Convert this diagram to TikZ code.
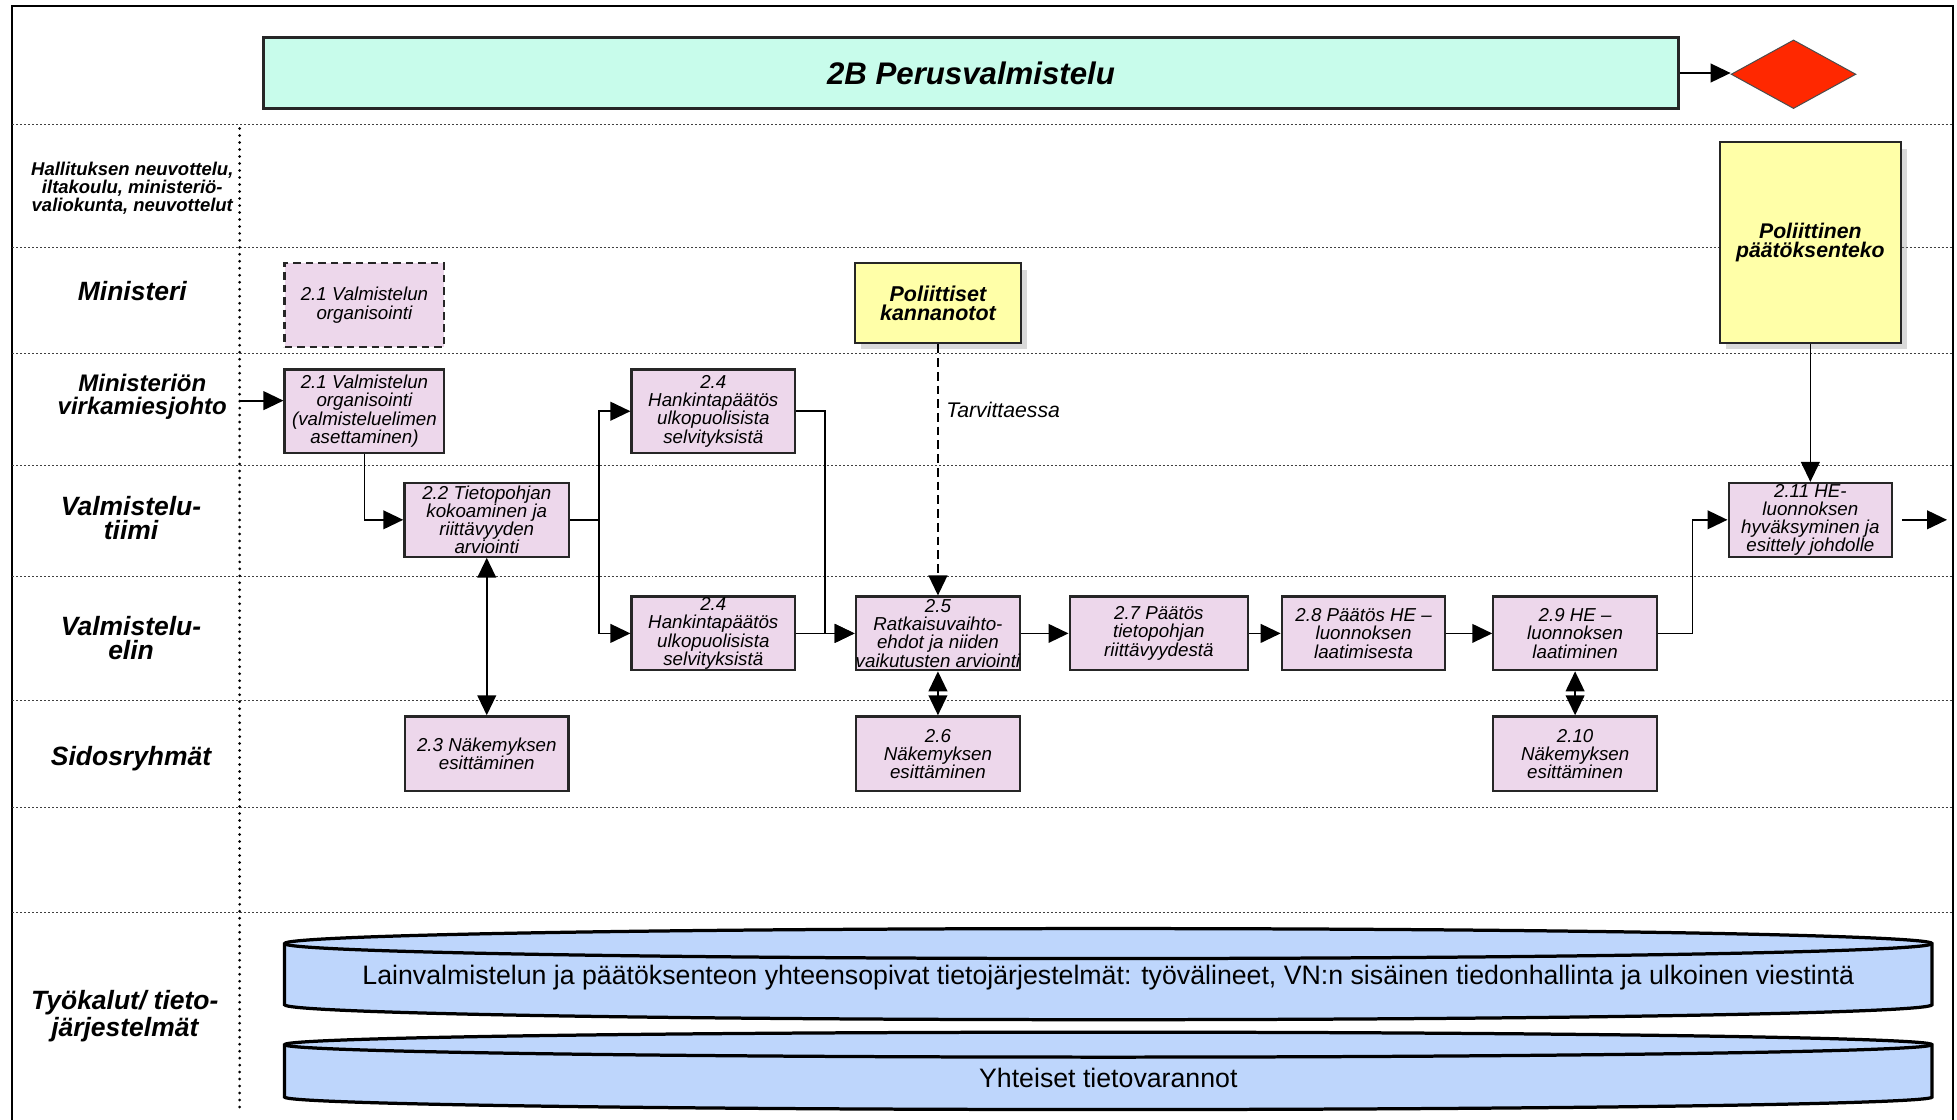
\documentclass[tikz,border=0pt]{standalone}
\usepackage{fontspec}
\setmainfont{Liberation Sans}
\usepackage{tikz}
\usetikzlibrary{arrows,arrows.meta,shapes,shadows,positioning}
\definecolor{taskpink}{RGB}{237,215,235}
\definecolor{titlemint}{RGB}{200,252,235}
\definecolor{notepale}{RGB}{255,255,168}
\definecolor{goalred}{RGB}{255,40,0}
\definecolor{storeblue}{RGB}{190,214,252}

\begin{document}
\begin{tikzpicture}[x=0.5pt,y=0.5pt]
                \tikzstyle{every node}+=[inner sep=0pt]
                \tikzstyle{lane}=[black!75, line width=0.4pt, dash pattern=on 0.8pt off 0.8pt]
                \tikzstyle{task}=[draw=black!85, fill=taskpink, line width=0.9pt, minimum width=65.5pt, minimum height=29.5pt, align=center, font=\fontsize{7.5}{7.3}\selectfont\itshape]
                \tikzstyle{tall}=[minimum height=33.5pt]
                \tikzstyle{note}=[draw=black!85, fill=notepale, line width=0.9pt, align=center, drop shadow={shadow xshift=2.5pt, shadow yshift=-2.5pt, opacity=0.3}, font=\fontsize{8.6}{7.5}\selectfont\bfseries\itshape]
                \tikzstyle{role}=[align=center, font=\fontsize{10.6}{9.6}\selectfont\bfseries\itshape]
                \tikzstyle{flow}=[black, line width=0.7pt, -{Triangle[length=8pt,width=7.5pt]}]
                \tikzstyle{both}=[black, line width=0.7pt, {Triangle[length=8pt,width=7.5pt]}-{Triangle[length=8pt,width=7.5pt]}]
                \tikzstyle{store}=[black, fill=storeblue, line width=1.3pt]
                \useasboundingbox (0,0) rectangle (1568,-897);
                % frame and swimlanes
                \draw [black, line width=0.8pt] (10,-905) -- (10,-5) -- (1565,-5) -- (1565,-905);
                \draw [lane] (10,-100) -- (1565,-100);
                \draw [lane] (10,-198) -- (1565,-198);
                \draw [lane] (10,-283) -- (1565,-283);
                \draw [lane] (10,-373) -- (1565,-373);
                \draw [lane] (10,-462) -- (1565,-462);
                \draw [lane] (10,-561) -- (1565,-561);
                \draw [lane] (10,-647) -- (1565,-647);
                \draw [lane] (10,-731) -- (1565,-731);
                \draw [black, line width=1.2pt, line cap=round, dash pattern=on 0pt off 2.8pt] (192,-103) -- (192,-890);
                % lane titles
                \node [role, font=\fontsize{7.4}{7.2}\selectfont\bfseries\itshape] (hall) at (106,-151) {Hallituksen neuvottelu,\\iltakoulu, ministeriö-\\valiokunta, neuvottelut};
                \node [role] (minister) at (106,-233) {Ministeri};
                \node [role, font=\fontsize{9.6}{9}\selectfont\bfseries\itshape] (officials) at (114,-318) {Ministeriön\\virkamiesjohto};
                \node [role] (team) at (105,-415) {Valmistelu-\\tiimi};
                \node [role] (body) at (105,-511) {Valmistelu-\\elin};
                \node [role] (groups) at (105,-608) {Sidosryhmät};
                \node [role] (tools) at (100,-814) {Työkalut/ tieto-\\järjestelmät};
                % phase
                \node [draw=black!85, fill=titlemint, line width=1pt, minimum width=567pt, minimum height=28.5pt, font=\fontsize{12.5}{14}\selectfont\bfseries\itshape] (phase) at (778,-58.5) {2B Perusvalmistelu};
                \node [diamond, draw=black!70, fill=goalred, minimum width=50pt, minimum height=27.5pt] (goal) at (1437,-59.5) {};
                % tasks
                \node [task, tall, minimum width=64pt, dash pattern=on 3pt off 2pt] (org0) at (292,-244.5) {2.1 Valmistelun\\organisointi};
                \node [task, tall, minimum width=64pt] (org) at (292,-329.5) {2.1 Valmistelun\\organisointi\\(valmisteluelimen\\asettaminen)};
                \node [task, minimum width=66pt] (base) at (390,-416.5) {2.2 Tietopohjan\\kokoaminen ja\\riittävyyden\\arviointi};
                \node [task, tall] (buyup) at (571.5,-329.5) {2.4\\Hankintapäätös\\ulkopuolisista\\selvityksistä};
                \node [task] (buydown) at (571.5,-507.5) {2.4\\Hankintapäätös\\ulkopuolisista\\selvityksistä};
                \node [note, minimum width=66.5pt, minimum height=32pt] (stance) at (751.5,-243) {Poliittiset\\kannanotot};
                \node [task] (options) at (751.5,-507.5) {2.5\\Ratkaisuvaihto-\\ehdot ja niiden\\vaikutusten arviointi};
                \node [task, minimum width=71.5pt] (check) at (928.5,-507.5) {2.7 Päätös\\tietopohjan\\riittävyydestä};
                \node [task] (decide) at (1092.5,-507.5) {2.8 Päätös HE –\\luonnoksen\\laatimisesta};
                \node [task] (draft) at (1262,-507.5) {2.9 HE –\\luonnoksen\\laatiminen};
                \node [task, minimum height=30pt] (view1) at (390,-604) {2.3 Näkemyksen\\esittäminen};
                \node [task, minimum height=30pt] (view2) at (751.5,-604) {2.6\\Näkemyksen\\esittäminen};
                \node [task, minimum height=30pt] (view3) at (1262,-604) {2.10\\Näkemyksen\\esittäminen};
                \node [note, minimum width=72.5pt, minimum height=80.5pt, font=\fontsize{8.5}{7.5}\selectfont\bfseries\itshape] (politics) at (1450.5,-194.5) {Poliittinen\\päätöksenteko};
                \node [task] (approve) at (1450.5,-416.5) {2.11 HE-\\luonnoksen\\hyväksyminen ja\\esittely johdolle};
                % information systems
                \draw [store] (228,-756) -- (228,-805) arc[start angle=180, end angle=360, x radius=330pt, y radius=6pt] -- (1548,-756) arc[start angle=0, end angle=180, x radius=330pt, y radius=6pt] -- cycle;
                \draw [store, fill=none] (228,-756) arc[start angle=180, end angle=360, x radius=330pt, y radius=6pt];
                \node [font=\fontsize{10.7}{12}\selectfont] (systems) at (888,-783) {Lainvalmistelun ja päätöksenteon yhteensopivat tietojärjestelmät: työvälineet, VN:n sisäinen tiedonhallinta ja ulkoinen viestintä};
                \draw [store] (228,-837) -- (228,-879) arc[start angle=180, end angle=360, x radius=330pt, y radius=5pt] -- (1548,-837) arc[start angle=0, end angle=180, x radius=330pt, y radius=5pt] -- cycle;
                \draw [store, fill=none] (228,-837) arc[start angle=180, end angle=360, x radius=330pt, y radius=5pt];
                \node [font=\fontsize{10.7}{12}\selectfont] (stores) at (888,-864) {Yhteiset tietovarannot};
                % connectors
                \coordinate (entry) at (192,-321);
                \coordinate (fork) at (480,-416.5);
                \coordinate (join) at (661,-507.5);
                \coordinate (rise) at (1356,-507.5);
                \coordinate (exit) at (1560,-416.5);
                \draw [flow] (phase.east) -- (phase.east -| goal.west);
                \draw [flow] (entry) -- (entry -| org.west);
                \draw [flow] (org.south) |- (base.west);
                \draw [flow] (base.east) -- (fork) |- (buyup.west);
                \draw [flow] (fork) |- (buydown.west);
                \draw [flow] (buyup.east) -| (join) -- (options.west);
                \draw [flow] (buydown.east) -- (options.west);
                \draw [both] (base.south) -- (view1.north);
                \draw [flow, dash pattern=on 3.5pt off 2pt] (stance.south) -- (options.north) node [pos=0.26, right=3pt, font=\fontsize{8.5}{10}\selectfont\itshape] (when) {Tarvittaessa};
                \draw [both] (options.south) -- (view2.north);
                \draw [flow] (options.east) -- (check.west);
                \draw [flow] (check.east) -- (decide.west);
                \draw [flow] (decide.east) -- (draft.west);
                \draw [both] (draft.south) -- (view3.north);
                \draw [flow] (draft.east) -- (rise) |- (approve.west);
                \draw [flow] (politics.south) -- (approve.north);
                \draw [flow] ([xshift=3.5pt]approve.east) -- (exit);
            \end{tikzpicture}
\end{document}
